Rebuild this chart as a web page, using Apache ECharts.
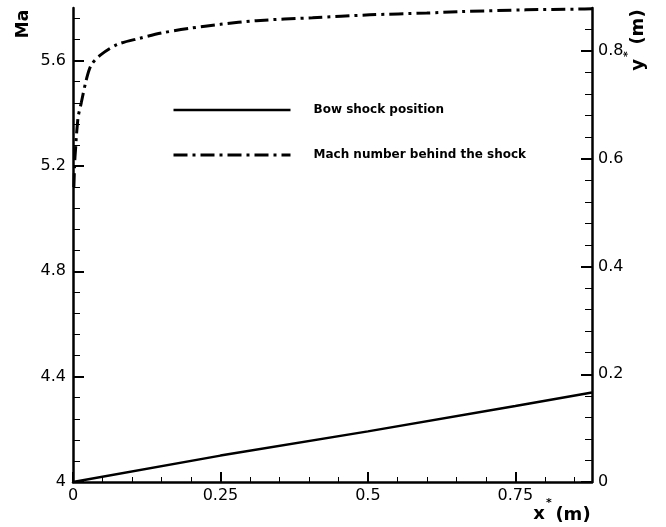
<!DOCTYPE html>
<html><head><meta charset="utf-8">
<script src="https://cdn.jsdelivr.net/npm/echarts@6/dist/echarts.min.js"></script>
<style>html,body{margin:0;padding:0;background:#fff}#c{width:666px;height:527px}</style>
</head><body><div id="c"></div>
<script>
// Mach number behind the shock (left axis, Ma)
const machX = [0.0015, 0.003, 0.0045, 0.0056, 0.0075, 0.009, 0.014, 0.0225, 0.031, 0.048, 0.076, 0.113, 0.15, 0.198, 0.25, 0.311, 0.406, 0.503, 0.6, 0.655, 0.768, 0.858, 0.88];
const machY = [5.12, 5.22, 5.27, 5.31, 5.36, 5.39, 5.44, 5.527, 5.584, 5.624, 5.662, 5.685, 5.705, 5.723, 5.738, 5.752, 5.763, 5.774, 5.781, 5.786, 5.793, 5.796, 5.797];
// Bow shock position (right axis, y* (m))
const bowX = [0, 0.25, 0.5, 0.75, 0.88];
const bowY = [0, 0.049, 0.094, 0.141, 0.166];
// ticks
const xMajorTicks = [0, 0.25, 0.5, 0.75];
const xMinorTicks = [0.05, 0.1, 0.15, 0.2, 0.3, 0.35, 0.4, 0.45, 0.55, 0.6, 0.65, 0.7, 0.8, 0.85];
const maMajorTicks = [4, 4.4, 4.8, 5.2, 5.6];
const maMinorTicks = [4.08, 4.16, 4.24, 4.32, 4.48, 4.56, 4.64, 4.72, 4.88, 4.96, 5.04, 5.12, 5.28, 5.36, 5.44, 5.52, 5.68, 5.76];
const yMajorTicks = [0, 0.2, 0.4, 0.6, 0.8];
const yMinorTicks = [0.04, 0.08, 0.12, 0.16, 0.24, 0.28, 0.32, 0.36, 0.44, 0.48, 0.52, 0.56, 0.64, 0.68, 0.72, 0.76, 0.84, 0.88];
const seriesNames = ['Bow shock position', 'Mach number behind the shock'];

const FONT = '"DejaVu Sans", "Liberation Sans", sans-serif';
const lbl = {fontFamily: FONT, fontSize: 16, color: '#000'};
const DASH = [14, 5, 3, 5];

function majorAxis(min, max, pos, ticks, len, margin) {
  return {
    type: 'value', min: min, max: max, position: pos, gridIndex: 0,
    axisLine: {show: true, onZero: false, lineStyle: {color: '#000', width: 2.5}},
    axisTick: {show: true, inside: true, length: len, lineStyle: {color: '#000', width: 2}, customValues: ticks},
    axisLabel: Object.assign({show: true, margin: margin, customValues: ticks}, lbl),
    splitLine: {show: false}, minorTick: {show: false}
  };
}
function minorAxis(min, max, pos, ticks, len) {
  return {
    type: 'value', min: min, max: max, position: pos, gridIndex: 0,
    axisLine: {show: false, onZero: false},
    axisTick: {show: true, inside: true, length: len, lineStyle: {color: '#000', width: 1}, customValues: ticks},
    axisLabel: {show: false},
    splitLine: {show: false}
  };
}

const chart = echarts.init(document.getElementById('c'), null, {renderer: 'canvas'});
chart.setOption({
  animation: false,
  backgroundColor: '#fff',
  grid: {left: 73, right: 74, top: 8, bottom: 45, containLabel: false},
  xAxis: [
    majorAxis(0, 0.88, 'bottom', xMajorTicks, 10, 6),
    minorAxis(0, 0.88, 'bottom', xMinorTicks, 5)
  ],
  yAxis: [
    majorAxis(4, 5.8, 'left', maMajorTicks, 11, 7),
    minorAxis(4, 5.8, 'left', maMinorTicks, 7),
    majorAxis(0, 0.88, 'right', yMajorTicks, 11, 6),
    minorAxis(0, 0.88, 'right', yMinorTicks, 7)
  ],
  legend: {
    data: [
      {name: seriesNames[0], lineStyle: {width: 2.5, color: '#000'}},
      {name: seriesNames[1], lineStyle: {width: 3, color: '#000', type: DASH}}
    ],
    orient: 'vertical', left: 172, top: 104, padding: 0,
    itemWidth: 117, itemHeight: 14, itemGap: 33,
    itemStyle: {opacity: 0},
    textStyle: {fontFamily: FONT, fontWeight: 'bold', fontSize: 12, color: '#000', padding: [0, 0, 0, 18]}
  },
  series: [
    {
      name: seriesNames[0], type: 'line', xAxisIndex: 0, yAxisIndex: 2,
      data: bowX.map((x, i) => [x, bowY[i]]), symbol: 'none', showSymbol: false,
      lineStyle: {color: '#000', width: 2.5}, itemStyle: {color: '#000'}
    },
    {
      name: seriesNames[1], type: 'line', xAxisIndex: 0, yAxisIndex: 0,
      data: machX.map((x, i) => [x, machY[i]]), symbol: 'none', showSymbol: false, smooth: 0.3,
      lineStyle: {color: '#000', width: 3, type: DASH}, itemStyle: {color: '#000'}
    }
  ],
  graphic: [
    {type: 'text', x: 24, y: 24, rotation: Math.PI / 2,
      style: {text: 'Ma', font: 'bold 17px ' + FONT, fill: '#000', align: 'center', verticalAlign: 'middle', textAlign: 'center', textVerticalAlign: 'middle'}},
    {type: 'text', x: 638, y: 65, rotation: Math.PI / 2,
      style: {text: 'y', font: 'bold 18px ' + FONT, fill: '#000', align: 'center', verticalAlign: 'middle', textAlign: 'center', textVerticalAlign: 'middle'}},
    {type: 'text', x: 628, y: 54, rotation: Math.PI / 2,
      style: {text: '*', font: 'bold 11px ' + FONT, fill: '#000', align: 'center', verticalAlign: 'middle', textAlign: 'center', textVerticalAlign: 'middle'}},
    {type: 'text', x: 638, y: 27, rotation: Math.PI / 2,
      style: {text: '(m)', font: 'bold 18px ' + FONT, fill: '#000', align: 'center', verticalAlign: 'middle', textAlign: 'center', textVerticalAlign: 'middle'}},
    {type: 'text', x: 539, y: 514,
      style: {text: 'x', font: 'bold 18px ' + FONT, fill: '#000', align: 'center', verticalAlign: 'middle', textAlign: 'center', textVerticalAlign: 'middle'}},
    {type: 'text', x: 549, y: 503,
      style: {text: '*', font: 'bold 11px ' + FONT, fill: '#000', align: 'center', verticalAlign: 'middle', textAlign: 'center', textVerticalAlign: 'middle'}},
    {type: 'text', x: 573, y: 515,
      style: {text: '(m)', font: 'bold 18px ' + FONT, fill: '#000', align: 'center', verticalAlign: 'middle', textAlign: 'center', textVerticalAlign: 'middle'}}
  ]
});
</script>
</body></html>
